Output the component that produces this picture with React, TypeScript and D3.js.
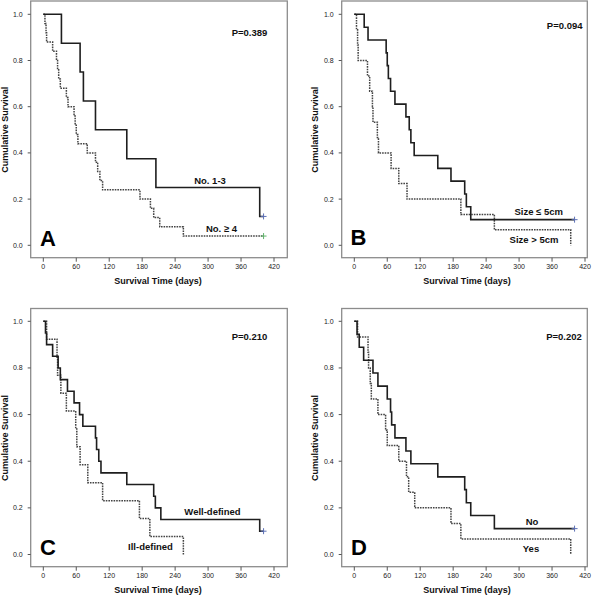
import React from "react";
import * as d3 from "d3";

// ---------- data ----------
const timeTicks = [0, 60, 120, 180, 240, 300, 360, 420];
const survTicks = [0, 0.2, 0.4, 0.6, 0.8, 1.0];

// Panel A: lymph node number
const aSolidTimes = [0, 33, 67, 73, 95, 152, 205, 394];
const aSolidSurv = [1, 0.875, 0.75, 0.625, 0.5, 0.375, 0.25, 0.125];
const aSolidCensor = [401];
const aDotTimes = [0, 3, 5, 6, 17, 24, 26, 28, 31, 42, 45, 56, 58, 60, 63, 80, 95, 99, 103, 108, 176, 195, 201, 212, 255];
const aDotSurv = [1, 0.96, 0.92, 0.88, 0.84, 0.8, 0.76, 0.72, 0.68, 0.64, 0.6, 0.56, 0.52, 0.48, 0.44, 0.4, 0.36, 0.32, 0.28, 0.24, 0.2, 0.16, 0.12, 0.08, 0.04];
const aDotCensor = [401];

// Panel B: tumour size
const bSolidTimes = [0, 18, 25, 58, 60, 62, 66, 74, 94, 100, 103, 109, 152, 176, 201, 204, 212];
const bSolidSurv = [1, 0.944, 0.889, 0.833, 0.778, 0.722, 0.667, 0.611, 0.556, 0.5, 0.444, 0.389, 0.333, 0.278, 0.222, 0.167, 0.111];
const bSolidCensor = [401];
const bDotTimes = [0, 4, 6, 7, 24, 28, 33, 34, 42, 44, 67, 81, 96, 194, 255, 394];
const bDotSurv = [1, 0.933, 0.867, 0.8, 0.733, 0.667, 0.6, 0.533, 0.467, 0.4, 0.333, 0.267, 0.2, 0.133, 0.067, 0];
const bDotCensor: number[] = [];

// Panel C: margin
const cSolidTimes = [0, 4, 6, 17, 27, 31, 44, 56, 66, 72, 95, 97, 101, 105, 152, 201, 204, 214, 394];
const cSolidSurv = [1, 0.95, 0.9, 0.85, 0.8, 0.75, 0.7, 0.65, 0.6, 0.55, 0.5, 0.45, 0.4, 0.35, 0.3, 0.25, 0.2, 0.15, 0.1];
const cSolidCensor = [401];
const cDotTimes = [0, 6, 25, 26, 32, 42, 59, 61, 67, 81, 108, 175, 194, 255];
const cDotSurv = [1, 0.923, 0.846, 0.769, 0.692, 0.615, 0.538, 0.462, 0.385, 0.308, 0.231, 0.154, 0.077, 0];
const cDotCensor: number[] = [];

// Panel D
const dSolidTimes = [0, 5, 9, 17, 34, 43, 60, 66, 68, 74, 94, 103, 152, 201, 204, 212, 255];
const dSolidSurv = [1, 0.944, 0.889, 0.833, 0.778, 0.722, 0.667, 0.611, 0.556, 0.5, 0.444, 0.389, 0.333, 0.278, 0.222, 0.167, 0.111];
const dSolidCensor = [401];
const dDotTimes = [0, 6, 25, 26, 29, 31, 43, 57, 60, 81, 95, 99, 110, 176, 194, 394];
const dDotSurv = [1, 0.933, 0.867, 0.8, 0.733, 0.667, 0.6, 0.533, 0.467, 0.4, 0.333, 0.267, 0.2, 0.133, 0.067, 0];
const dDotCensor: number[] = [];

const panelLetters = ["A", "B", "C", "D"];
const pValues = ["P=0.389", "P=0.094", "P=0.210", "P=0.202"];
const solidLabels = ["No. 1-3", "Size \u2264 5cm", "Well-defined", "No"];
const dotLabels = ["No. \u2265 4", "Size > 5cm", "Ill-defined", "Yes"];
const xTitle = "Survival Time (days)";
const yTitle = "Cumulative Survival";

// ---------- layout ----------
type Layout = {
  fx0: number; fx1: number; fy0: number; fy1: number;
  xr: [number, number]; yr: [number, number];
  p: [number, number]; letter: [number, number];
  sl: [number, number]; dl: [number, number];
  dotCensorColor: string;
};
const layouts: Layout[] = [
  { fx0: 30.7, fx1: 287.3, fy0: 1, fy1: 257.7, xr: [43.3, 274], yr: [245.3, 14.3], p: [249.5, 32.5], letter: [48, 246], sl: [210, 180], dl: [221.5, 228.7], dotCensorColor: "#5fb36a" },
  { fx0: 341.7, fx1: 587.3, fy0: 1, fy1: 257.7, xr: [354.3, 585], yr: [245.3, 14.3], p: [564.7, 25], letter: [358.5, 245], sl: [538.7, 211], dl: [534, 239], dotCensorColor: "#5b6fb5" },
  { fx0: 30.7, fx1: 287.3, fy0: 308.5, fy1: 566.7, xr: [43.3, 274], yr: [554.5, 321.3], p: [249.5, 336], letter: [48, 555], sl: [212.5, 511.7], dl: [150.5, 546], dotCensorColor: "#5b6fb5" },
  { fx0: 341.7, fx1: 587.3, fy0: 308.5, fy1: 566.7, xr: [354.3, 585], yr: [554.5, 321.3], p: [564, 336], letter: [359, 555], sl: [532, 521.7], dl: [531, 548], dotCensorColor: "#5b6fb5" },
];

const series = [
  { st: aSolidTimes, ss: aSolidSurv, sc: aSolidCensor, dt: aDotTimes, ds: aDotSurv, dc: aDotCensor },
  { st: bSolidTimes, ss: bSolidSurv, sc: bSolidCensor, dt: bDotTimes, ds: bDotSurv, dc: bDotCensor },
  { st: cSolidTimes, ss: cSolidSurv, sc: cSolidCensor, dt: cDotTimes, ds: cDotSurv, dc: cDotCensor },
  { st: dSolidTimes, ss: dSolidSurv, sc: dSolidCensor, dt: dDotTimes, ds: dDotSurv, dc: dDotCensor },
];

const FONT = "'Liberation Sans', Arial, sans-serif";

function Panel({ i }: { i: number }) {
  const L = layouts[i];
  const S = series[i];
  const x = d3.scaleLinear().domain([0, 420]).range(L.xr);
  const y = d3.scaleLinear().domain([0, 1]).range(L.yr);
  const line = d3
    .line<[number, number]>()
    .x((d) => x(d[0]))
    .y((d) => y(d[1]))
    .curve(d3.curveStepAfter);

  const pts = (t: number[], s: number[], c: number[]) => {
    const p: [number, number][] = t.map((tt, k) => [tt, s[k]]);
    if (c.length) p.push([d3.max(c) as number, s[s.length - 1]]);
    return p;
  };
  const solidPts = pts(S.st, S.ss, S.sc);
  const dotPts = pts(S.dt, S.ds, S.dc);
  const solidLast = S.ss[S.ss.length - 1];
  const dotLast = S.ds[S.ds.length - 1];
  const cyMid = (L.yr[0] + L.yr[1]) / 2;
  const cxMid = (L.fx0 + L.fx1) / 2 + (i % 2 === 0 ? 0 : -8);

  const plus = (cx: number, cy: number, color: string, key: string) => (
    <g key={key} stroke={color} strokeWidth={1}>
      <line x1={cx - 3} x2={cx + 3} y1={cy} y2={cy} />
      <line x1={cx} x2={cx} y1={cy - 3} y2={cy + 3} />
    </g>
  );

  return (
    <g fontFamily={FONT}>
      <rect x={L.fx0} y={L.fy0} width={L.fx1 - L.fx0} height={L.fy1 - L.fy0} fill="none" stroke="#8c8c8c" strokeWidth={1.3} />
      {survTicks.map((v) => (
        <g key={"y" + v}>
          <line x1={L.fx0 - 3} x2={L.fx0} y1={y(v)} y2={y(v)} stroke="#555" strokeWidth={1} />
          <text x={L.fx0 - 8} y={y(v)} textAnchor="end" dominantBaseline="central" fontSize={7} fill="#222">
            {d3.format(".1f")(v)}
          </text>
        </g>
      ))}
      {timeTicks.map((v) => (
        <g key={"x" + v}>
          <line x1={x(v)} x2={x(v)} y1={L.fy1} y2={L.fy1 + 4} stroke="#555" strokeWidth={1} />
          <text x={x(v)} y={L.fy1 + 9.2} textAnchor="middle" dominantBaseline="central" fontSize={7} fill="#222">
            {v}
          </text>
        </g>
      ))}
      <text x={(i % 2 === 0 ? 158 : 467)} y={L.fy1 + 23.5} textAnchor="middle" dominantBaseline="central" fontSize={9} fontWeight="bold" fill="#111">
        {xTitle}
      </text>
      <text
        transform={`translate(${i % 2 === 0 ? 5 : 315},${cyMid}) rotate(-90)`}
        textAnchor="middle"
        dominantBaseline="central"
        fontSize={9}
        fontWeight="bold"
        fill="#111"
      >
        {yTitle}
      </text>

      <path d={line(dotPts) || ""} fill="none" stroke="#444" strokeWidth={1.5} strokeDasharray="1.6,1" />
      <path d={line(solidPts) || ""} fill="none" stroke="#1e1e1e" strokeWidth={1.6} />
      {S.sc.map((c, k) => plus(x(c), y(solidLast), "#5b6fb5", "sc" + k))}
      {S.dc.map((c, k) => plus(x(c), y(dotLast), L.dotCensorColor, "dc" + k))}

      <text x={L.p[0]} y={L.p[1]} textAnchor="middle" dominantBaseline="central" fontSize={9.5} fontWeight="bold" fill="#111">
        {pValues[i]}
      </text>
      <text x={L.letter[0]} y={L.letter[1]} textAnchor="middle" fontSize={22} fontWeight="bold" fill="#000">
        {panelLetters[i]}
      </text>
      <text x={L.sl[0]} y={L.sl[1]} textAnchor="middle" dominantBaseline="central" fontSize={9.5} fontWeight="bold" fill="#111">
        {solidLabels[i]}
      </text>
      <text x={L.dl[0]} y={L.dl[1]} textAnchor="middle" dominantBaseline="central" fontSize={9.5} fontWeight="bold" fill="#111">
        {dotLabels[i]}
      </text>
      {void cxMid}
    </g>
  );
}

export default function App() {
  return (
    <svg
      width={600}
      height={596}
      viewBox="0 0 600 596"
      style={{ position: "absolute", left: 0, top: 0, background: "#fff" }}
    >
      <rect x={0} y={0} width={600} height={596} fill="#fff" />
      {[0, 1, 2, 3].map((i) => (
        <Panel key={i} i={i} />
      ))}
    </svg>
  );
}
